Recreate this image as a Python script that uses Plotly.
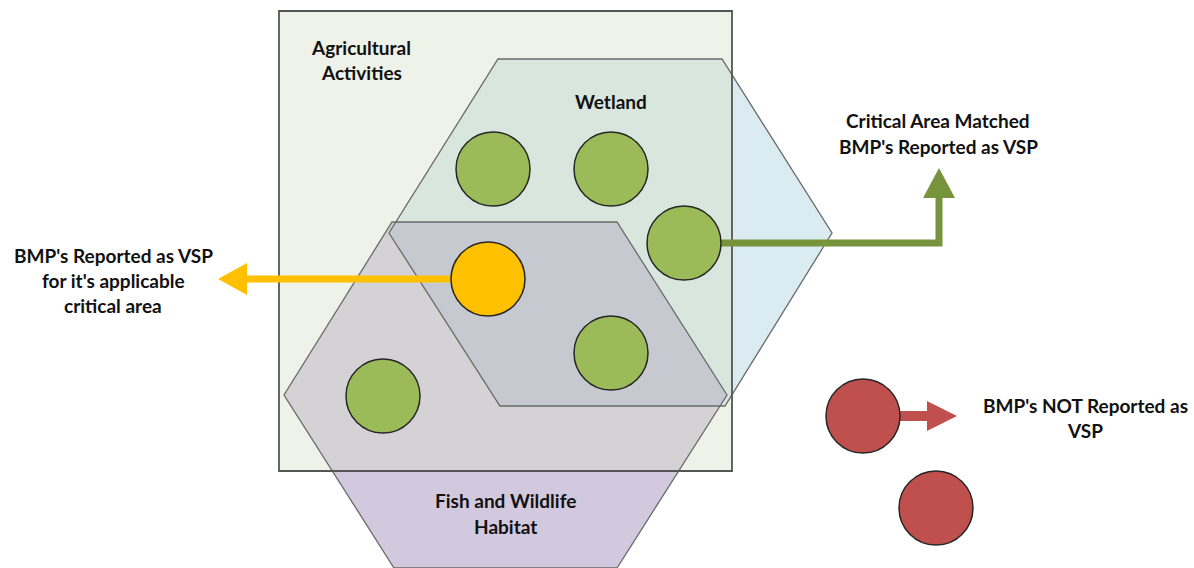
import plotly.graph_objects as go

# ---------------- data ----------------
area_names = ["Agricultural Activities", "Wetland", "Fish and Wildlife Habitat"]
area_label_lines = [["Agricultural", "Activities"], ["Wetland"], ["Fish and Wildlife", "Habitat"]]
bmp_status = ["matched", "matched", "matched", "applicable", "matched", "matched", "not_reported", "not_reported"]
callout_lines = {
    "applicable": ["BMP's Reported as VSP", "for it's applicable", "critical area"],
    "matched": ["Critical Area Matched", "BMP's Reported as VSP"],
    "not_reported": ["BMP's NOT Reported as", "VSP"],
}

# ---------------- layout geometry (pixel space) ----------------
W, H = 1194, 568
RECT = [(279, 11), (732, 11), (732, 471), (279, 471)]
WET = [(498, 59), (722, 59), (832, 233), (725, 406), (500, 406), (389, 233)]
FISH = [(392, 222), (617, 222), (727, 395), (617, 568), (394, 568), (284, 395)]
BMP_POS = [(493, 169), (611, 169), (684, 243), (488, 279), (611, 353), (383, 396), (863, 416), (936, 508)]
R = 37

STATUS_COLOR = {"matched": "#9bbb59", "applicable": "#ffc000", "not_reported": "#c0504d"}
ARROW_COLOR = {"matched": "#77933c", "applicable": "#ffc000", "not_reported": "#c0504d"}

AREA_LABEL_POS = [[(361, 47), (361, 72)], [(611, 101)], [(505, 500), (505, 526)]]
CALLOUT_POS = {
    "applicable": [(113, 255), (113, 280), (113, 305)],
    "matched": [(938, 120), (938, 146)],
    "not_reported": [(1085, 405), (1085, 430)],
}


def inter(p1, p2, a, b):
    x1, y1 = p1; x2, y2 = p2; x3, y3 = a; x4, y4 = b
    d = (x1 - x2) * (y3 - y4) - (y1 - y2) * (x3 - x4)
    t = ((x1 - x3) * (y3 - y4) - (y1 - y3) * (x3 - x4)) / d
    return (x1 + t * (x2 - x1), y1 + t * (y2 - y1))


def clip(subject, clipper):
    cx = sum(p[0] for p in clipper) / len(clipper)
    cy = sum(p[1] for p in clipper) / len(clipper)

    def side(a, b, p):
        return (b[0] - a[0]) * (p[1] - a[1]) - (b[1] - a[1]) * (p[0] - a[0])

    out = list(subject)
    n = len(clipper)
    for i in range(n):
        a, b = clipper[i], clipper[(i + 1) % n]
        ref = side(a, b, (cx, cy))
        inside = lambda p: side(a, b, p) * ref >= 0
        inp = out
        out = []
        if not inp:
            break
        for j in range(len(inp)):
            cur, prev = inp[j], inp[j - 1]
            if inside(cur):
                if not inside(prev):
                    out.append(inter(prev, cur, a, b))
                out.append(cur)
            elif inside(prev):
                out.append(inter(prev, cur, a, b))
    return out


def path(pts):
    return "M " + " L ".join(f"{x:.2f},{y:.2f}" for x, y in pts) + " Z"


shapes = []


def poly(pts, fill, line=None, width=0):
    shapes.append(dict(type="path", path=path(pts), fillcolor=fill,
                       line=dict(color=line or "rgba(0,0,0,0)", width=width), layer="above"))


# region fills
poly(WET, "#daebf1")
poly(FISH, "#d3c9de")
poly(RECT, "#eff2e8")
poly(clip(WET, RECT), "#d9e6de")
poly(clip(FISH, RECT), "#d4d2d4")
poly(clip(WET, FISH), "#c6c9cf")
# outlines
poly(WET, "rgba(0,0,0,0)", "#6a6a6a", 1.3)
poly(FISH, "rgba(0,0,0,0)", "#6a6a6a", 1.3)
poly(RECT, "rgba(0,0,0,0)", "#555555", 1.8)

# connector shafts
yx, yy = BMP_POS[3]
shapes.append(dict(type="line", x0=yx, y0=yy, x1=246, y1=yy,
                   line=dict(color=ARROW_COLOR["applicable"], width=7)))
gx, gy = BMP_POS[2]
shapes.append(dict(type="path", path=f"M {gx},{gy} L 939,{gy} L 939,197",
                   line=dict(color=ARROW_COLOR["matched"], width=7)))
rx, ry = BMP_POS[6]
shapes.append(dict(type="line", x0=rx, y0=ry, x1=928, y1=ry,
                   line=dict(color=ARROW_COLOR["not_reported"], width=10)))
# arrow heads
poly([(218, 279), (247, 263), (247, 295)], ARROW_COLOR["applicable"])
poly([(939, 168), (955, 198), (923, 198)], ARROW_COLOR["matched"])
poly([(957, 416), (927, 401), (927, 431)], ARROW_COLOR["not_reported"])

# BMP circles
for (cx, cy), st in zip(BMP_POS, bmp_status):
    shapes.append(dict(type="circle", x0=cx - R, x1=cx + R, y0=cy - R, y1=cy + R,
                       fillcolor=STATUS_COLOR[st], line=dict(color="#262626", width=1.5)))

annotations = []
FONT = dict(family="Lato, 'Open Sans', sans-serif", size=19, color="#111111", weight="bold")
for lines, poss in zip(area_label_lines, AREA_LABEL_POS):
    for t, (x, y) in zip(lines, poss):
        annotations.append(dict(x=x, y=y, text=t, showarrow=False, font=FONT,
                                xanchor="center", yanchor="middle"))
for k, lines in callout_lines.items():
    for t, (x, y) in zip(lines, CALLOUT_POS[k]):
        annotations.append(dict(x=x, y=y, text=t, showarrow=False, font=FONT,
                                xanchor="center", yanchor="middle"))

fig = go.Figure()
fig.update_layout(
    width=W, height=H, margin=dict(l=0, r=0, t=0, b=0),
    paper_bgcolor="white", plot_bgcolor="white",
    xaxis=dict(range=[0, W], visible=False, fixedrange=True),
    yaxis=dict(range=[H, 0], visible=False, fixedrange=True),
    shapes=shapes, annotations=annotations, showlegend=False,
)
fig.write_html("out.html", config={"displayModeBar": False},
               post_script="document.body.style.margin='0';document.body.style.overflow='hidden';")
